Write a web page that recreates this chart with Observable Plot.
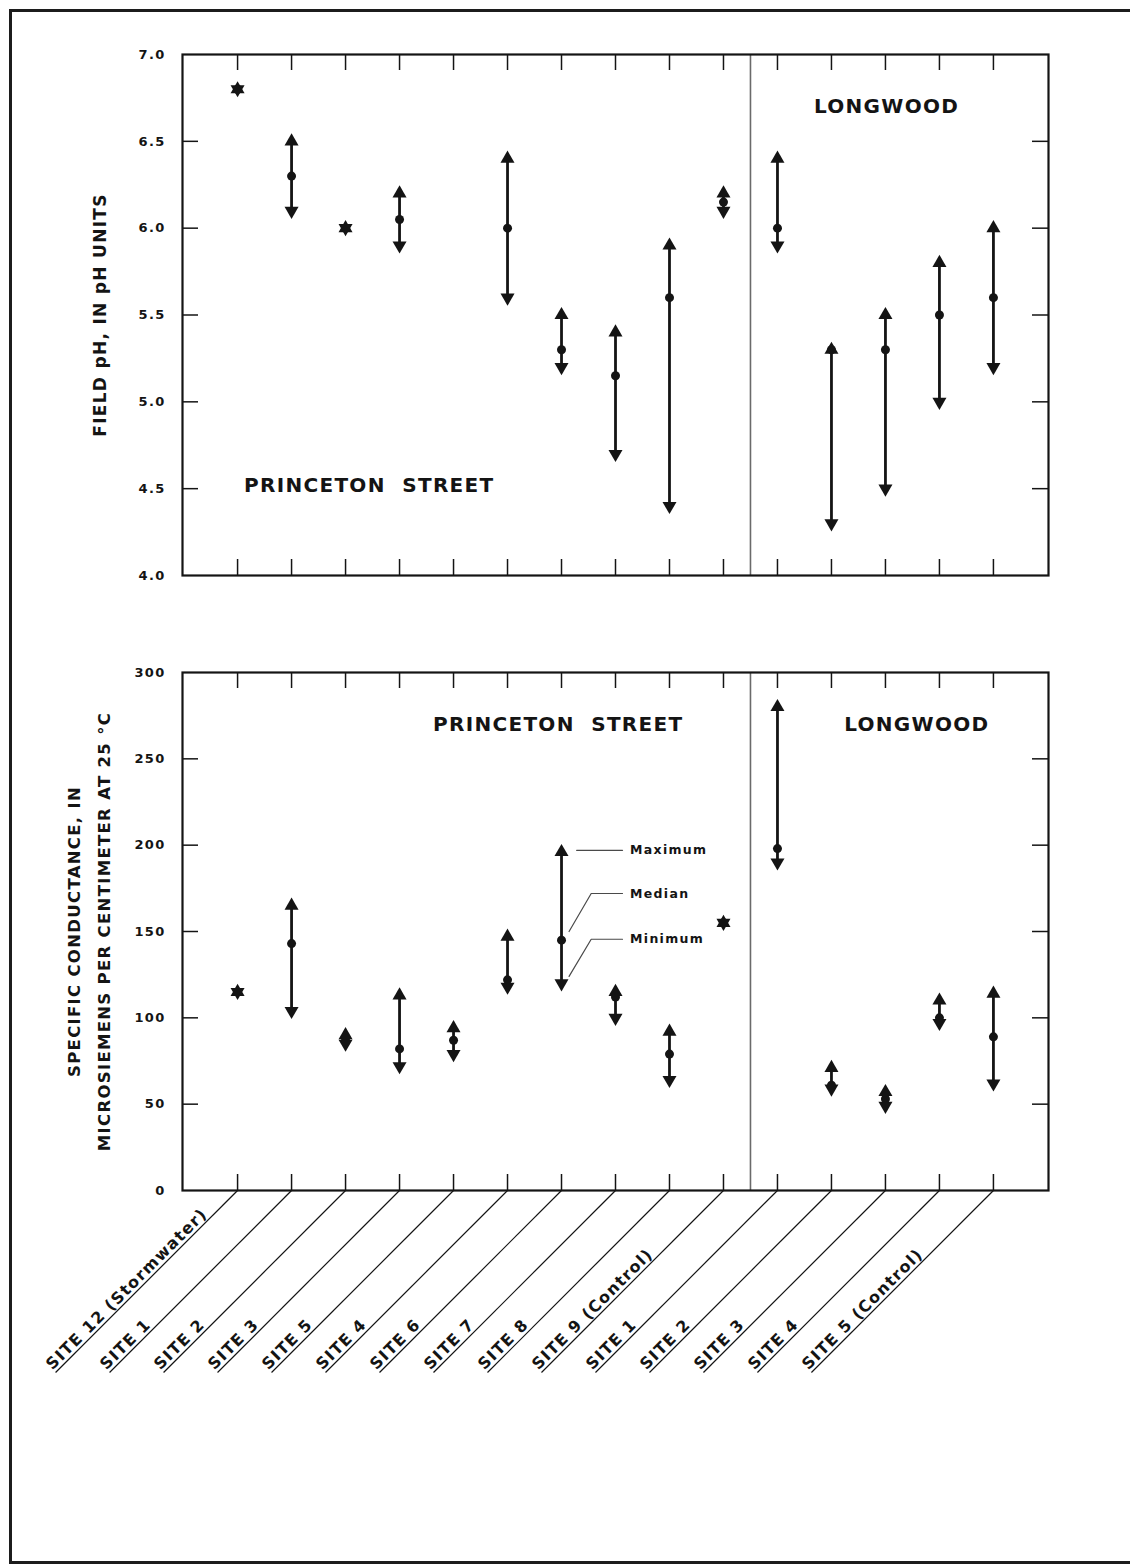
<!DOCTYPE html>
<html>
<head>
<meta charset="utf-8">
<script src="https://cdn.jsdelivr.net/npm/d3@7"></script>
<script src="https://cdn.jsdelivr.net/npm/@observablehq/plot@0.6"></script>
<style>
  html, body { margin: 0; padding: 0; background: #fff; }
  #page { position: relative; width: 1130px; height: 1565px; overflow: hidden; background: #fff; }
  #border { position: absolute; left: 9px; top: 9px; width: 1160px; height: 1555px;
            border: 3px solid #1c1c1c; box-sizing: border-box; }
  .panel { position: absolute; left: 0; }
  .panel svg { overflow: visible; }
</style>
</head>
<body>
<div id="page"><div id="border"></div></div>
<script>
// Sampling sites, in plotting order (Princeton Street, then Longwood)
const sites = [
  "SITE 12 (Stormwater)", "SITE 1", "SITE 2", "SITE 3", "SITE 5", "SITE 4",
  "SITE 6", "SITE 7", "SITE 8", "SITE 9 (Control)",
  "SITE 1", "SITE 2", "SITE 3", "SITE 4", "SITE 5 (Control)"
];
const areas = [
  "PRINCETON STREET", "PRINCETON STREET", "PRINCETON STREET", "PRINCETON STREET", "PRINCETON STREET",
  "PRINCETON STREET", "PRINCETON STREET", "PRINCETON STREET", "PRINCETON STREET", "PRINCETON STREET",
  "LONGWOOD", "LONGWOOD", "LONGWOOD", "LONGWOOD", "LONGWOOD"
];

// Field pH (null = not measured)
const phMax    = [6.8, 6.5, 6.0, 6.2,  null, 6.4, 5.5, 5.4,  5.9, 6.2,  6.4, 5.3, 5.5, 5.8, 6.0];
const phMedian = [6.8, 6.3, 6.0, 6.05, null, 6.0, 5.3, 5.15, 5.6, 6.15, 6.0, 5.3, 5.3, 5.5, 5.6];
const phMin    = [6.8, 6.1, 6.0, 5.9,  null, 5.6, 5.2, 4.7,  4.4, 6.1,  5.9, 4.3, 4.5, 5.0, 5.2];

// Specific conductance, microsiemens per centimeter at 25 °C
const scMax    = [115, 165, 90, 113, 94, 147, 196, 115, 92, 155, 280, 71, 57, 110, 114];
const scMedian = [115, 143, 87, 82,  87, 122, 145, 112, 79, 155, 198, 61, 53, 100, 89];
const scMin    = [115, 104, 85, 72,  79, 118, 120, 100, 64, 155, 190, 59, 49, 97,  62];

const phTicks = [4.0, 4.5, 5.0, 5.5, 6.0, 6.5, 7.0];
const scTicks = [0, 50, 100, 150, 200, 250, 300];

const keyLabels = ["Maximum", "Median", "Minimum"];

// ---------------------------------------------------------------------------
const INK = "#141414";
const FONT = "'DejaVu Sans', 'Liberation Sans', sans-serif";
const W = 1130;
const MARGIN_L = 182, MARGIN_R = 82;
const X_DOMAIN = [-1.02, 15.02];
const frameW = W - MARGIN_L - MARGIN_R;
const TICK = 16;

const idx = d3.range(sites.length);
const split = areas.filter(a => a === areas[0]).length - 0.5;   // boundary between the two areas

const phRows = idx.filter(i => phMax[i] != null)
  .map(i => ({i, max: phMax[i], median: phMedian[i], min: phMin[i]}));
const scRows = idx.map(i => ({i, max: scMax[i], median: scMedian[i], min: scMin[i]}));

const baseStyle = {
  fontFamily: FONT, fontWeight: "bold", fontSize: "13px",
  letterSpacing: "1.3px", color: INK, background: "transparent"
};

function rangeMarks(rows) {
  return [
    Plot.ruleX(rows, {x: "i", y1: "min", y2: "max", stroke: INK, strokeWidth: 2.8}),
    Plot.dot(rows, {x: "i", y: "median", r: 4.5, fill: INK, stroke: null}),
    Plot.dot(rows, {x: "i", y: "max", symbol: "triangle", r: 5.2, fill: INK, stroke: null}),
    Plot.dot(rows, {x: "i", y: "min", symbol: "triangle", rotate: 180, r: 5.2, fill: INK, stroke: null})
  ];
}

function frameMarks(innerTicks, frameH) {
  return [
    Plot.ruleX(idx, {x: d => d, insetBottom: frameH - TICK, stroke: INK, strokeWidth: 1.5}),
    Plot.ruleX(idx, {x: d => d, insetTop: frameH - TICK, stroke: INK, strokeWidth: 1.5}),
    Plot.ruleY(innerTicks, {y: d => d, insetRight: frameW - TICK, stroke: INK, strokeWidth: 1.5}),
    Plot.ruleY(innerTicks, {y: d => d, insetLeft: frameW - TICK, stroke: INK, strokeWidth: 1.5}),
    Plot.ruleX([split], {x: d => d, stroke: "#6a6a6a", strokeWidth: 1.6}),
    Plot.frame({stroke: INK, strokeWidth: 2.2})
  ];
}

// ---------------- Field pH panel ----------------
const topH = 600, topMT = 54, topMB = 25;
const phPlot = Plot.plot({
  width: W, height: topH,
  marginLeft: MARGIN_L, marginRight: MARGIN_R, marginTop: topMT, marginBottom: topMB,
  style: baseStyle,
  x: {domain: X_DOMAIN, axis: null},
  y: {domain: [4, 7], ticks: phTicks, tickSize: 0, tickPadding: 17,
      tickFormat: d3.format(".1f"), label: null},
  marks: [
    ...frameMarks(phTicks.slice(1, -1), topH - topMT - topMB),
    ...rangeMarks(phRows),
    Plot.text(["FIELD pH, IN pH UNITS"], {
      text: d => d, frameAnchor: "left", dx: -82, rotate: -90,
      textAnchor: "middle", lineAnchor: "middle", fontSize: 17
    }),
    Plot.text([areas[0]], {x: () => 0.12, y: () => 4.52, text: d => d.replace(" ", "\u00a0\u00a0"),
      textAnchor: "start", lineAnchor: "middle", fontSize: 20}),
    Plot.text([areas[areas.length - 1]], {x: () => 12.02, y: () => 6.70, text: d => d,
      textAnchor: "middle", lineAnchor: "middle", fontSize: 20})
  ]
});

// ---------------- Specific conductance panel ----------------
const botH = 965, botMT = 72, botMB = 375;
const botFrameH = botH - botMT - botMB;
const LEAD = 182;                                   // leader line run (px) below the frame
const kx = frameW / (X_DOMAIN[1] - X_DOMAIN[0]);    // px per site step
const ky = botFrameH / 300;                         // px per µS/cm

// key callouts beside the SITE 6 range
const keySite = 6;
const keyText = keyLabels.map((label, k) => ({label, y: [197, 172, 145.5][k]}));
const keyLeaders = [
  {k: 0, x: keySite + 0.28, y: 197}, {k: 0, x: keySite + 1.13, y: 197},
  {k: 1, x: keySite + 0.14, y: 150}, {k: 1, x: keySite + 0.55, y: 172}, {k: 1, x: keySite + 1.13, y: 172},
  {k: 2, x: keySite + 0.14, y: 124}, {k: 2, x: keySite + 0.55, y: 145.5}, {k: 2, x: keySite + 1.13, y: 145.5}
];

const scPlot = Plot.plot({
  width: W, height: botH,
  marginLeft: MARGIN_L, marginRight: MARGIN_R, marginTop: botMT, marginBottom: botMB,
  style: baseStyle,
  x: {domain: X_DOMAIN, axis: null},
  y: {domain: [0, 300], ticks: scTicks, tickSize: 0, tickPadding: 17, label: null},
  marks: [
    ...frameMarks(scTicks.slice(1, -1), botFrameH),
    ...rangeMarks(scRows),
    // slanted site labels on leader lines
    Plot.link(idx, {x1: d => d, y1: () => 0, x2: d => d - LEAD / kx, y2: () => -LEAD / ky,
      stroke: INK, strokeWidth: 1.2}),
    Plot.text(idx, {x: d => d, y: () => 0, text: d => sites[d], rotate: -45,
      textAnchor: "start", lineAnchor: "bottom", dx: -LEAD - 3, dy: LEAD - 2, fontSize: 16}),
    // key
    Plot.line(keyLeaders, {x: "x", y: "y", z: "k", stroke: "#4a4a4a", strokeWidth: 1.2}),
    Plot.text(keyText, {x: () => keySite + 1.27, y: "y", text: "label",
      textAnchor: "start", lineAnchor: "middle", fontSize: 12.5}),
    // axis title
    Plot.text(["SPECIFIC CONDUCTANCE, IN\nMICROSIEMENS PER CENTIMETER AT 25 °C"], {
      text: d => d, frameAnchor: "left", dx: -97, rotate: -90,
      textAnchor: "middle", lineAnchor: "middle", lineHeight: 1.8, fontSize: 16.5
    }),
    Plot.text([areas[0]], {x: () => 3.62, y: () => 270, text: d => d.replace(" ", "\u00a0\u00a0"),
      textAnchor: "start", lineAnchor: "middle", fontSize: 20}),
    Plot.text([areas[areas.length - 1]], {x: () => 12.58, y: () => 270, text: d => d,
      textAnchor: "middle", lineAnchor: "middle", fontSize: 20})
  ]
});

const page = document.getElementById("page");
const topDiv = document.createElement("div");
topDiv.className = "panel"; topDiv.style.top = "0px";
topDiv.appendChild(phPlot);
const botDiv = document.createElement("div");
botDiv.className = "panel"; botDiv.style.top = topH + "px";
botDiv.appendChild(scPlot);
page.appendChild(topDiv);
page.appendChild(botDiv);
</script>
</body>
</html>
